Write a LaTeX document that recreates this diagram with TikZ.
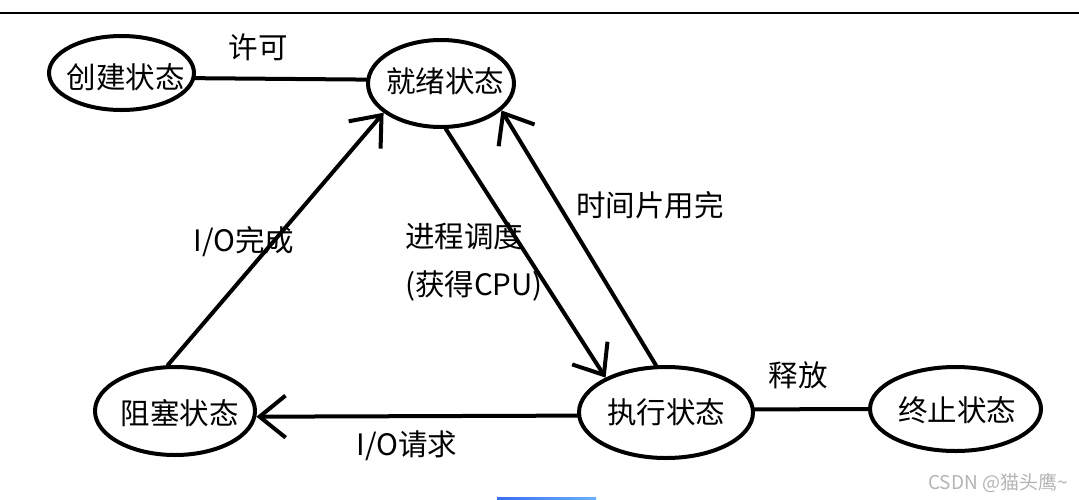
\documentclass[tikz,border=0pt]{standalone}
\usepackage{fontspec}
\setmainfont{Noto Sans CJK SC}
\usetikzlibrary{arrows.meta,shapes.geometric}
\definecolor{wmgray}{HTML}{B4B4B4}
\definecolor{barL}{HTML}{3A6EF2}
\definecolor{barR}{HTML}{6AB0FF}
\begin{document}
\begin{tikzpicture}[x=1pt,y=-1pt,
  state/.style={ellipse, draw, line width=4pt, inner sep=0pt},
  lbl/.style={inner sep=0pt, font=\fontsize{29.5}{31}\selectfont},
  conn/.style={line width=4pt, line cap=round},
  arr/.style={conn, -{Straight Barb[length=26pt,width=42pt]}}]
\fill[white] (0,0) rectangle (1079,499);
\useasboundingbox (0,0) rectangle (1079,499);
% top rule
\coordinate (r1) at (0,13);
\coordinate (r2) at (1079,13);
\draw[line width=1.3pt] (r1) -- (r2);
% blue bar
\shade[left color=barL, right color=barR] (497,497.3) rectangle (596,499);
% states
\node[state, minimum width=145pt, minimum height=74pt,
  label={[lbl, xshift=4pt, yshift=-4pt]center:创建状态}] (cj) at (121.5,73) {};
\node[state, minimum width=146pt, minimum height=87pt,
  label={[lbl, xshift=4pt, yshift=2.5pt]center:就绪状态}] (jx) at (441,83.5) {};
\node[state, minimum width=160pt, minimum height=88pt,
  label={[lbl, xshift=4.5pt, yshift=-2pt]center:阻塞状态}] (zs) at (175,411) {};
\node[state, minimum width=174pt, minimum height=91pt,
  label={[lbl]center:执行状态}] (zx) at (666,412.5) {};
\node[state, minimum width=171pt, minimum height=84pt,
  label={[lbl, xshift=1.5pt, yshift=-1pt]center:终止状态}] (zz) at (955.5,409) {};
% labels
\node[lbl] (t1) at (258,47) {许可};
\node[lbl] (t2) at (244,242) {I/O完成};
\node[lbl, anchor=west] (t3) at (405,236) {进程调度};
\node[lbl, anchor=west] (t4) at (405,286) {(获得CPU)};
\node[lbl] (t5) at (650,205) {时间片用完};
\node[lbl] (t6) at (407,446) {I/O请求};
\node[lbl] (t7) at (798,375) {释放};
\node[inner sep=0pt, font=\fontsize{19}{20}\selectfont, text=wmgray] (wm) at (998,483) {CSDN @猫头鹰\textasciitilde};
% connectors
\draw[conn] (cj.-4) -- (jx.177);
\draw[arr] (zs.99) -- (jx.207);
\draw[arr] (jx.276) -- (zx.150);
\draw[arr] (zx.102) -- (jx.336);
\draw[arr] (zx.182) -- (zs.-4);
\draw[conn] (zx.2) -- (zz.180);
\end{tikzpicture}
\end{document}
